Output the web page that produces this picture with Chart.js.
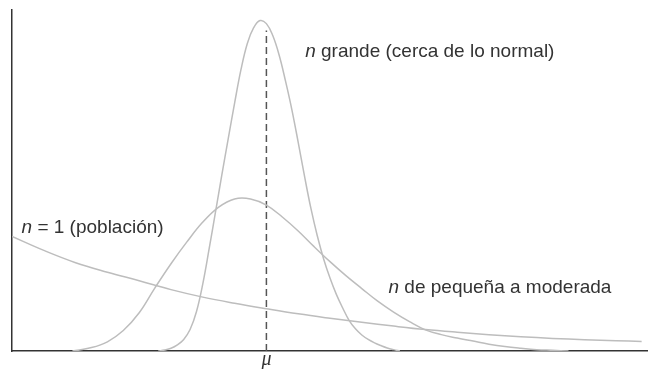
<!DOCTYPE html>
<html>
<head>
<meta charset="utf-8">
<script src="https://cdn.jsdelivr.net/npm/chart.js@4.4.1/dist/chart.umd.min.js"></script>
<style>
html,body{margin:0;padding:0;background:#fff;}
canvas{display:block;}
</style>
</head>
<body>
<canvas id="c" width="648" height="369"></canvas>
<script>
// x positions (arbitrary units, mu = 4) and densities (relative heights)
const muValue = 4;
const muLabel = 'μ';

const largeX = [2.3, 2.4, 2.5, 2.6, 2.7, 2.8, 2.9, 3.0, 3.1, 3.2, 3.3, 3.4, 3.5, 3.6, 3.7, 3.8, 3.9, 4.0, 4.1, 4.2, 4.3, 4.4, 4.5, 4.6, 4.7, 4.8, 4.9, 5.0, 5.1, 5.2, 5.3, 5.4, 5.5, 5.6, 5.7, 5.8, 5.9, 6.0, 6.1];
const largeY = [0.000, 0.003, 0.008, 0.018, 0.034, 0.063, 0.115, 0.197, 0.300, 0.408, 0.517, 0.623, 0.727, 0.825, 0.902, 0.948, 0.969, 0.960, 0.925, 0.868, 0.792, 0.708, 0.612, 0.512, 0.418, 0.338, 0.270, 0.214, 0.166, 0.126, 0.090, 0.065, 0.047, 0.034, 0.024, 0.016, 0.009, 0.004, 0.000];

const moderateX = [0.95, 1.25, 1.5, 1.75, 2.0, 2.25, 2.5, 2.75, 3.0, 3.25, 3.5, 3.75, 4.0, 4.25, 4.5, 4.75, 5.0, 5.25, 5.5, 5.75, 6.0, 6.25, 6.5, 6.75, 7.0, 7.25, 7.5, 7.75, 8.0, 8.25, 8.5, 8.75];
const moderateY = [0.000, 0.010, 0.027, 0.060, 0.112, 0.186, 0.256, 0.320, 0.378, 0.422, 0.446, 0.446, 0.428, 0.393, 0.352, 0.306, 0.262, 0.221, 0.183, 0.146, 0.114, 0.086, 0.062, 0.048, 0.038, 0.029, 0.020, 0.013, 0.008, 0.004, 0.002, 0.000];

const popX = [0.0, 0.5, 1.0, 1.5, 2.0, 2.5, 3.0, 3.5, 4.0, 4.5, 5.0, 5.5, 6.0, 6.5, 7.0, 7.5, 8.0, 8.5, 9.0, 9.5, 9.9];
const popY = [0.336, 0.295, 0.259, 0.231, 0.206, 0.180, 0.158, 0.140, 0.124, 0.109, 0.096, 0.084, 0.073, 0.063, 0.055, 0.048, 0.042, 0.037, 0.033, 0.030, 0.028];

const muLineY = [0, 0.94];

const labelTexts = [
  ['n', ' grande (cerca de lo normal)'],
  ['n', ' = 1 (población)'],
  ['n', ' de pequeña a moderada']
];

function pts(xs, ys){ return xs.map((x,i)=>({x:x, y:ys[i]})); }

const curveColor = '#bdbdbd';
const textColor = '#333333';

const labelPlugin = {
  id: 'curveLabels',
  afterDraw(chart){
    const ctx = chart.ctx;
    const xs = chart.scales.x, ys = chart.scales.y;
    const anchors = [[4.61, 0.863], [0.15, 0.345], [5.92, 0.171]];
    ctx.save();
    ctx.fillStyle = textColor;
    ctx.textBaseline = 'alphabetic';
    labelTexts.forEach((parts, i) => {
      let px = xs.getPixelForValue(anchors[i][0]);
      const py = ys.getPixelForValue(anchors[i][1]);
      ctx.font = 'italic 19px "Liberation Sans", Arial, sans-serif';
      ctx.fillText(parts[0], px, py);
      px += ctx.measureText(parts[0]).width;
      ctx.font = '19px "Liberation Sans", Arial, sans-serif';
      ctx.fillText(parts[1], px, py);
    });
    ctx.restore();
  }
};

const lineStyle = { borderColor: curveColor, borderWidth: 1.5, pointRadius: 0, tension: 0.4, fill: false };

new Chart(document.getElementById('c'), {
  type: 'line',
  data: {
    datasets: [
      Object.assign({ data: pts(popX, popY) }, lineStyle),
      Object.assign({ data: pts(moderateX, moderateY) }, lineStyle),
      Object.assign({ data: pts(largeX, largeY) }, lineStyle),
      { data: pts([muValue, muValue], muLineY), borderColor: '#555555', borderWidth: 1.5, borderDash: [7, 4], pointRadius: 0, fill: false }
    ]
  },
  options: {
    responsive: false,
    animation: false,
    devicePixelRatio: 1,
    layout: { padding: { left: 12, top: 10, right: 0, bottom: 0 } },
    plugins: { legend: { display: false }, tooltip: { enabled: false } },
    scales: {
      x: {
        type: 'linear', min: 0, max: 10,
        grid: { display: false, drawTicks: false },
        border: { display: true, color: '#333333', width: 1.5 },
        afterBuildTicks: (s) => { s.ticks = [{ value: muValue }]; },
        ticks: {
          display: true, autoSkip: false, maxRotation: 0, padding: 1,
          color: textColor,
          font: { family: '"Liberation Serif", "DejaVu Serif", serif', style: 'italic', size: 20, lineHeight: 0.8 },
          callback: () => muLabel
        }
      },
      y: {
        type: 'linear', min: 0, max: 1,
        grid: { display: false, drawTicks: false },
        border: { display: true, color: '#333333', width: 1.5 },
        ticks: { display: false }
      }
    }
  },
  plugins: [labelPlugin]
});
</script>
</body>
</html>
